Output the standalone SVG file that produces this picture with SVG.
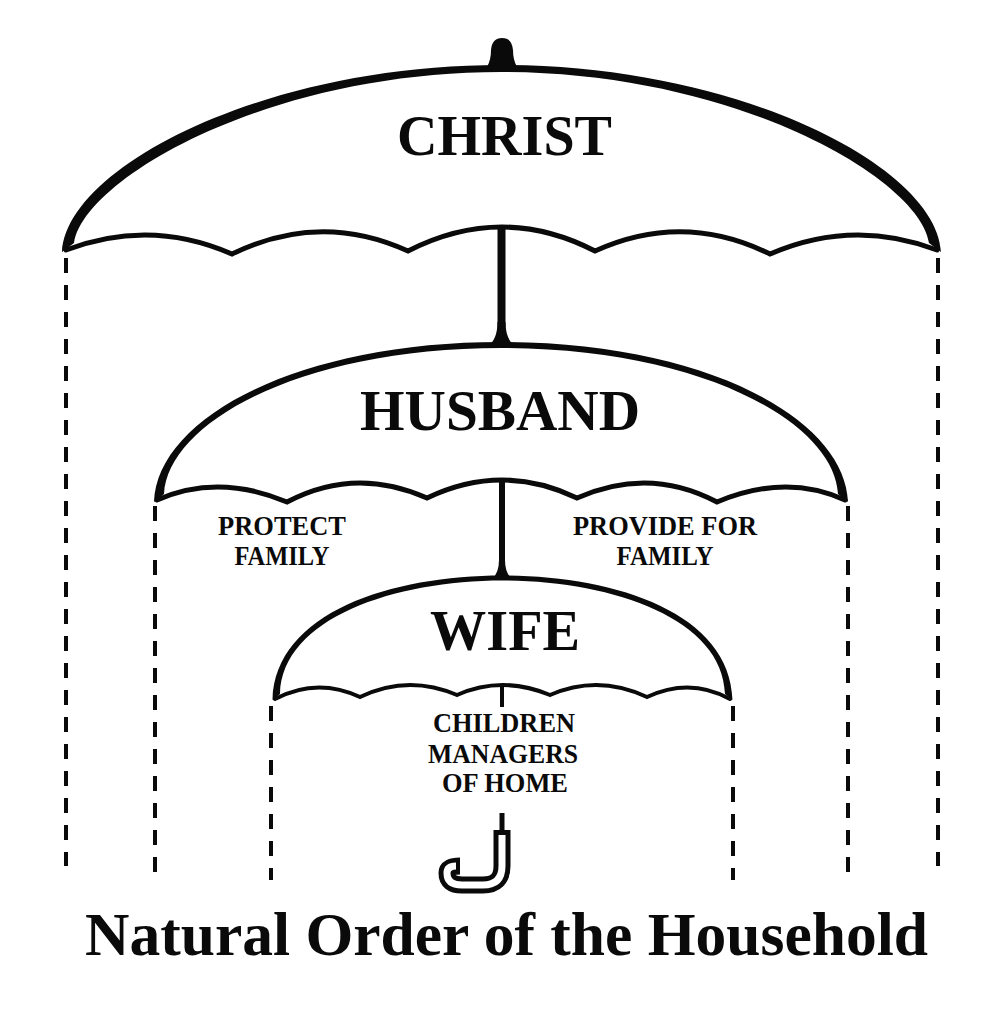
<svg xmlns="http://www.w3.org/2000/svg" width="1003" height="1024" viewBox="0 0 1003 1024">
<style>
.canopy{fill:#0a0a0a;stroke:none}
.scallop{fill:none;stroke:#0a0a0a;stroke-linejoin:miter;stroke-linecap:round}
.stem{stroke:#0a0a0a;fill:none}
.flare{fill:#0a0a0a}
.dash{stroke:#0a0a0a;stroke-width:4;stroke-dasharray:15 12;fill:none}
.big{font-family:"Liberation Serif","Times New Roman",serif;font-weight:bold;font-size:56px;fill:#0a0a0a;text-anchor:middle}
.small{font-family:"Liberation Serif","Times New Roman",serif;font-weight:bold;font-size:28px;fill:#0a0a0a;text-anchor:middle}
.title{font-family:"Liberation Serif","Times New Roman",serif;font-weight:bold;font-size:62px;fill:#0a0a0a;text-anchor:middle}
</style>
<rect width="1003" height="1024" fill="#ffffff"/>
<g id="christ">
<path class="canopy" d="M 487 67 Q 491 60 491 50 Q 492 38 502 38 Q 512 38 513 50 Q 513 60 517 67 Z"/>
<path class="canopy" d="M 62 252 C 66 168 262 65 501.5 65 C 741 65 937 168 941 252 L 929 243 C 920 180 738 72 501.5 72 C 265 72 83 180 74 243 Z"/>
<path class="scallop" stroke-width="5" d="M 66 250 Q 150 218 232 254 Q 320 211 408 251 Q 502 203 595 251 Q 683 211 770 254 Q 853 218 937 250"/>
<text class="big" x="504.5" y="155" textLength="215" lengthAdjust="spacingAndGlyphs">CHRIST</text>
</g>
<g id="husband">
<path class="canopy" d="M 154 502 C 157 418 298 342 501 342 C 704 342 845 418 848 502 L 838 494 C 834 422 700 348 501 348 C 302 348 168 422 164 494 Z"/>
<path class="scallop" stroke-width="5" d="M 157 500 Q 218 473 287 502 Q 355 466 427 498 Q 502 462 577 498 Q 649 466 717 502 Q 786 473 845 500"/>
<text class="big" x="500" y="430" textLength="280" lengthAdjust="spacingAndGlyphs">HUSBAND</text>
<text class="small" x="282" y="535" textLength="128" lengthAdjust="spacingAndGlyphs">PROTECT</text>
<text class="small" x="282" y="565" textLength="95" lengthAdjust="spacingAndGlyphs">FAMILY</text>
<text class="small" x="665" y="535" textLength="184" lengthAdjust="spacingAndGlyphs">PROVIDE FOR</text>
<text class="small" x="665" y="565" textLength="97" lengthAdjust="spacingAndGlyphs">FAMILY</text>
</g>
<g id="wife">
<path class="canopy" d="M 272.5 700 C 275 612 392 575.5 502.5 575.5 C 613 575.5 730 612 732.5 700 L 725 694 C 723 618 610 580.5 502.5 580.5 C 395 580.5 282 618 280 694 Z"/>
<path class="scallop" stroke-width="4" d="M 275 699 Q 317 677 360 697 Q 408 674 457 695 Q 502 675 550 695 Q 598 674 647 697 Q 690 677 730 699"/>
<text class="big" x="505" y="650" textLength="150" lengthAdjust="spacingAndGlyphs">WIFE</text>
<text class="small" x="504" y="732" textLength="142" lengthAdjust="spacingAndGlyphs">CHILDREN</text>
<text class="small" x="503" y="763" textLength="150" lengthAdjust="spacingAndGlyphs">MANAGERS</text>
<text class="small" x="505" y="792" textLength="126" lengthAdjust="spacingAndGlyphs">OF HOME</text>
</g>
<g id="handle">
<line class="stem" x1="502" y1="813" x2="502" y2="832" stroke-width="5"/>
<path d="M 502 830 L 502 866 Q 502 885 483 885 L 462 885 Q 447 885 447 873 Q 447 866 460 866" fill="none" stroke="#0a0a0a" stroke-width="17" stroke-linejoin="round"/>
<path d="M 502 835 L 502 866 Q 502 885 483 885 L 462 885 Q 447 885 447 873 Q 447 866 456 866" fill="none" stroke="#ffffff" stroke-width="7" stroke-linejoin="round"/>
</g>
<g id="connectors">
<line class="stem" x1="501.5" y1="226" x2="501.5" y2="345" stroke-width="8"/>
<path class="flare" d="M 497.5 322 Q 497.5 340 487 347 L 516 347 Q 505.5 340 505.5 322 Z"/>
<line class="stem" x1="502" y1="479" x2="502" y2="577" stroke-width="6"/>
<path class="flare" d="M 499 560 Q 499 573 492 579 L 512 579 Q 505 573 505 560 Z"/>
<line class="stem" x1="502" y1="684" x2="502" y2="707" stroke-width="4"/>
<line class="dash" x1="66" y1="258" x2="66" y2="866"/>
<line class="dash" x1="938" y1="258" x2="938" y2="866"/>
<line class="dash" x1="155" y1="506" x2="155" y2="880"/>
<line class="dash" x1="848" y1="506" x2="848" y2="880"/>
<line class="dash" x1="271" y1="706" x2="271" y2="880"/>
<line class="dash" x1="733" y1="706" x2="733" y2="880"/>
</g>
<text class="title" x="506.5" y="955" textLength="843" lengthAdjust="spacingAndGlyphs">Natural Order of the Household</text>
</svg>
